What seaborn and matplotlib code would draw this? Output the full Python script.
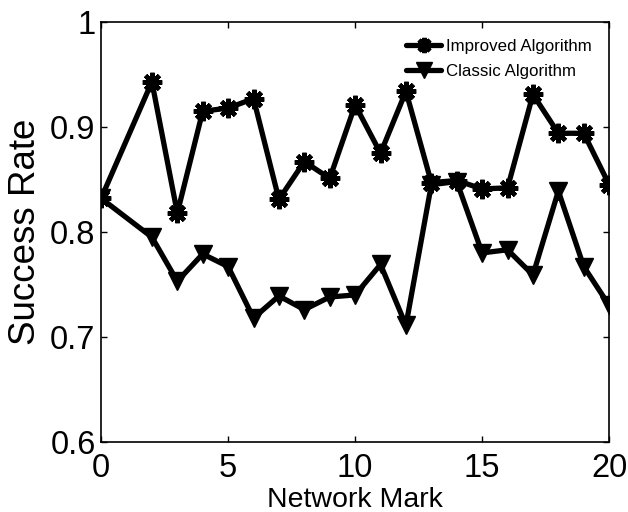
import matplotlib
matplotlib.use("Agg")
import matplotlib.pyplot as plt
import seaborn as sns
import pandas as pd

network_mark = [0, 2, 3, 4, 5, 6, 7, 8, 9, 10, 11, 12, 13, 14, 15, 16, 17, 18, 19, 20]
improved = [0.832, 0.943, 0.818, 0.915, 0.918, 0.927, 0.831, 0.867, 0.851, 0.921,
            0.875, 0.934, 0.847, 0.849, 0.841, 0.842, 0.931, 0.894, 0.894, 0.845]
classic = [0.832, 0.795, 0.753, 0.779, 0.767, 0.718, 0.739, 0.726, 0.738, 0.740,
           0.769, 0.711, 0.845, 0.848, 0.780, 0.783, 0.759, 0.839, 0.767, 0.730]
series_names = ["Improved Algorithm", "Classic Algorithm"]
x_ticks = [0, 5, 10, 15, 20]
y_ticks = [0.6, 0.7, 0.8, 0.9, 1.0]
y_ticklabels = ["0.6", "0.7", "0.8", "0.9", "1"]

df_imp = pd.DataFrame({"x": network_mark, "y": improved})
df_cls = pd.DataFrame({"x": network_mark, "y": classic})

sns.set_style("ticks")
plt.rcParams["font.family"] = ["Liberation Sans", "DejaVu Sans"]
plt.rcParams["text.color"] = "black"
plt.rcParams["axes.labelcolor"] = "black"

fig = plt.figure(figsize=(6.28, 5.12), dpi=100)
ax = fig.add_axes([0.161, 0.137, 0.809, 0.820])

sns.lineplot(data=df_imp, x="x", y="y", color="black", marker=(8, 2, 0),
             linewidth=3.8, markersize=14, markeredgewidth=3.2,
             markeredgecolor="black", ax=ax, label=series_names[0])
sns.lineplot(data=df_cls, x="x", y="y", color="black", marker="v",
             linewidth=3.8, markersize=13, markeredgewidth=1.0,
             markeredgecolor="black", markerfacecolor="black", ax=ax, label=series_names[1])

ax.set_xlim(0, 20)
ax.set_ylim(0.6, 1.0)
ax.set_xticks(x_ticks)
ax.set_yticks(y_ticks)
ax.set_yticklabels(y_ticklabels)
ax.tick_params(direction="in", length=4, width=1, labelsize=23.5, top=True, right=True,
               colors="black")
ax.tick_params(axis="x", pad=8)
ax.tick_params(axis="y", pad=4)
for s in ax.spines.values():
    s.set_visible(True)
    s.set_linewidth(1.2)
    s.set_color("black")

ax.set_xlabel("Network Mark", fontsize=20.5, labelpad=2)
ax.set_ylabel("Success Rate", fontsize=26.5, labelpad=5)

leg = ax.legend(loc="upper right", frameon=False, fontsize=12.2, handlelength=2.1,
                handletextpad=0.3, borderaxespad=0.6, labelspacing=0.6)
for h in leg.legend_handles:
    h.set_linewidth(3.8)
    h.set_markersize(11)

fig.savefig("out.png", dpi=100)
